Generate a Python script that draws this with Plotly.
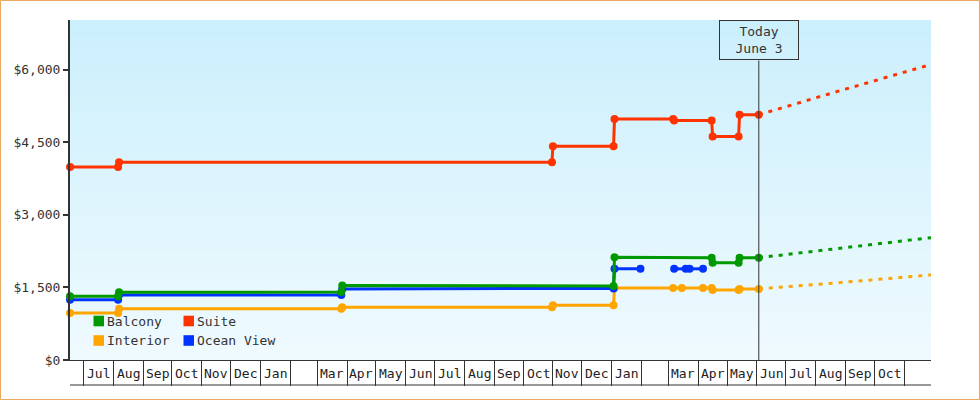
import base64
import struct
import zlib

import pandas as pd
import plotly.graph_objects as go

# ---------------- data ----------------
series_names = ["Balcony", "Suite", "Interior", "Ocean View"]
series_colors = ["#009900", "#FF3300", "#FFA500", "#0033FF"]

suite_dates = ["2017-06-17", "2017-08-06", "2017-08-07", "2018-10-31", "2018-11-01",
               "2019-01-03", "2019-01-04", "2019-03-06", "2019-03-07", "2019-04-15",
               "2019-04-16", "2019-05-13", "2019-05-14", "2019-06-03"]
suite_values = [3990, 3990, 4090, 4090, 4420, 4420, 4985, 4985, 4950, 4950,
                4620, 4620, 5070, 5070]

balcony_dates = ["2017-06-17", "2017-08-06", "2017-08-07", "2018-03-26", "2018-03-27",
                 "2019-01-03", "2019-01-04", "2019-04-15", "2019-04-16", "2019-05-13",
                 "2019-05-14", "2019-06-03"]
balcony_values = [1320, 1320, 1400, 1405, 1540, 1530, 2125, 2115, 2010, 2010, 2115, 2115]

interior_dates = ["2017-06-17", "2017-08-06", "2017-08-07", "2018-03-26", "2018-03-27",
                  "2018-10-31", "2018-11-01", "2019-01-03", "2019-01-04", "2019-03-06",
                  "2019-03-15", "2019-04-06", "2019-04-15", "2019-04-16", "2019-05-13",
                  "2019-05-14", "2019-06-03"]
interior_values = [970, 970, 1060, 1060, 1090, 1090, 1130, 1130, 1490, 1490,
                   1490, 1490, 1490, 1445, 1445, 1470, 1470]

ocean_dates = ["2017-06-17", "2017-08-06", "2017-08-07", "2018-03-26", "2018-03-27",
               "2019-01-03", "2019-01-04", "2019-01-31", None, "2019-03-07",
               "2019-03-19", "2019-03-23", "2019-04-06"]
ocean_values = [1245, 1245, 1345, 1345, 1470, 1480, 1885, 1885, None, 1885,
                1885, 1885, 1885]

forecast_dates = ["2019-06-03", "2019-07-01", "2019-08-01", "2019-09-01",
                  "2019-10-01", "2019-11-01", "2019-11-29"]
suite_forecast = [5070, 5240, 5420, 5600, 5775, 5960, 6110]
balcony_forecast = [2115, 2180, 2250, 2330, 2400, 2470, 2530]
interior_forecast = [1470, 1518, 1562, 1610, 1660, 1712, 1760]

x_start, x_end = "2017-06-17", "2019-11-29"
today = "2019-06-03"
today_label = "Today<br>June 3"

y_ticks = [0, 1500, 3000, 4500, 6000]
y_ticktext = ["$0", "$1,500", "$3,000", "$4,500", "$6,000"]

month_labels = ["Jul", "Aug", "Sep", "Oct", "Nov", "Dec", "Jan", "",
                "Mar", "Apr", "May", "Jun", "Jul", "Aug", "Sep", "Oct", "Nov", "Dec",
                "Jan", "", "Mar", "Apr", "May", "Jun", "Jul", "Aug", "Sep", "Oct"]

# ---------------- layout geometry ----------------
W, H = 980, 400
ML, MR, MT, MB = 70, 49, 20, 40
PW = W - ML - MR
PH = H - MT - MB
FONT = "DejaVu Sans Mono"


def px_x(p):
    return (p - ML) / PW


def px_y(p):
    return (H - MB - p) / PH


# gradient background image (vertical)
def gradient_png(top, bottom, n=340):
    rows = []
    for i in range(n):
        t = i / (n - 1)
        c = [round(top[k] + (bottom[k] - top[k]) * t) for k in range(3)]
        rows.append(b"\x00" + bytes(c + c))
    raw = b"".join(rows)

    def chunk(tag, data):
        return (struct.pack(">I", len(data)) + tag + data +
                struct.pack(">I", zlib.crc32(tag + data) & 0xffffffff))
    png = b"\x89PNG\r\n\x1a\n"
    png += chunk(b"IHDR", struct.pack(">IIBBBBB", 2, n, 8, 2, 0, 0, 0))
    png += chunk(b"IDAT", zlib.compress(raw, 9))
    png += chunk(b"IEND", b"")
    return "data:image/png;base64," + base64.b64encode(png).decode()


fig = go.Figure()

line_w = 3
mk = 8
dash = "4px,6px"

# order: interior, ocean view, balcony, suite
fig.add_trace(go.Scatter(x=interior_dates, y=interior_values, mode="lines+markers",
                         line=dict(color=series_colors[2], width=line_w),
                         marker=dict(color=series_colors[2], size=mk),
                         cliponaxis=False, connectgaps=False, name=series_names[2]))
fig.add_trace(go.Scatter(x=forecast_dates, y=interior_forecast, mode="lines",
                         line=dict(color=series_colors[2], width=line_w, dash=dash),
                         cliponaxis=False))
fig.add_trace(go.Scatter(x=ocean_dates, y=ocean_values, mode="lines+markers",
                         line=dict(color=series_colors[3], width=line_w),
                         marker=dict(color=series_colors[3], size=mk),
                         cliponaxis=False, connectgaps=False, name=series_names[3]))
fig.add_trace(go.Scatter(x=balcony_dates, y=balcony_values, mode="lines+markers",
                         line=dict(color=series_colors[0], width=line_w),
                         marker=dict(color=series_colors[0], size=mk),
                         cliponaxis=False, name=series_names[0]))
fig.add_trace(go.Scatter(x=forecast_dates, y=balcony_forecast, mode="lines",
                         line=dict(color=series_colors[0], width=line_w, dash=dash),
                         cliponaxis=False))
fig.add_trace(go.Scatter(x=suite_dates, y=suite_values, mode="lines+markers",
                         line=dict(color=series_colors[1], width=line_w),
                         marker=dict(color=series_colors[1], size=mk),
                         cliponaxis=False, name=series_names[1]))
fig.add_trace(go.Scatter(x=forecast_dates, y=suite_forecast, mode="lines",
                         line=dict(color=series_colors[1], width=line_w, dash=dash),
                         cliponaxis=False))

shapes = []
annotations = []

# outer border
shapes.append(dict(type="rect", xref="paper", yref="paper",
                   x0=px_x(0.5), x1=px_x(979.5), y0=px_y(399.5), y1=px_y(0.5),
                   line=dict(color="#E8A860", width=1), layer="above"))

# bottom line of month cells
cell_bottom = px_y(385)
shapes.append(dict(type="line", xref="paper", yref="paper", x0=0, x1=1,
                   y0=cell_bottom, y1=cell_bottom, line=dict(color="#333", width=1)))

# month labels centered in cells
month_starts = pd.date_range("2017-07-01", periods=len(month_labels) + 1, freq="MS")
for i, lab in enumerate(month_labels):
    if not lab:
        continue
    s, e = month_starts[i], month_starts[i + 1]
    mid = s + (e - s) / 2
    annotations.append(dict(x=mid, xref="x", y=px_y(373), yref="paper", text=lab,
                            showarrow=False, xanchor="center", yanchor="middle",
                            font=dict(family=FONT, size=13, color="#222")))

# today marker
box_bottom = px_y(60.5)
shapes.append(dict(type="line", xref="x", yref="paper", x0=today, x1=today,
                   y0=0, y1=box_bottom, line=dict(color="#333", width=1), layer="above"))
annotations.append(dict(x=today, xref="x", y=1, yref="paper", text=today_label,
                        showarrow=False, xanchor="center", yanchor="top",
                        width=78, height=38, borderpad=0, bordercolor="#333",
                        borderwidth=1, bgcolor="rgba(0,0,0,0)",
                        font=dict(family=FONT, size=13, color="#333")))

# legend (manual, 2 x 2)
leg_pos = [(93.5, 321), (183.5, 321), (93.5, 340.5), (183.5, 340.5)]
for name, color, (lx, ly) in zip(series_names, series_colors, leg_pos):
    shapes.append(dict(type="rect", xref="paper", yref="paper",
                       x0=px_x(lx), x1=px_x(lx + 10.5), y0=px_y(ly + 5.3), y1=px_y(ly - 5.3),
                       fillcolor=color, line=dict(width=0), layer="above"))
    annotations.append(dict(x=px_x(lx + 11.5), xref="paper", y=px_y(ly), yref="paper",
                            text=name, showarrow=False, xanchor="left", yanchor="middle",
                            font=dict(family=FONT, size=13, color="#333")))

fig.update_layout(
    width=W, height=H,
    margin=dict(l=ML, r=MR, t=MT, b=MB, pad=0),
    paper_bgcolor="white",
    plot_bgcolor="rgba(0,0,0,0)",
    showlegend=False,
    shapes=shapes,
    annotations=annotations,
    images=[dict(source=gradient_png((203, 239, 252), (239, 250, 254)),
                 xref="paper", yref="paper", x=0, y=1, sizex=1, sizey=1,
                 xanchor="left", yanchor="top", sizing="stretch", layer="below")],
    font=dict(family=FONT, size=13, color="#333"),
)

fig.update_xaxes(type="date", range=[x_start, x_end], showgrid=False, zeroline=False,
                 showline=True, linecolor="#333", linewidth=1,
                 ticks="outside", ticklen=25, tickcolor="#333", tickwidth=1,
                 tick0="2017-07-01", dtick="M1", showticklabels=False)
fig.update_yaxes(range=[0, 7030], showgrid=False, zeroline=False,
                 showline=True, linecolor="#333", linewidth=2,
                 ticks="outside", ticklen=5, tickcolor="#333", tickwidth=2,
                 tickvals=y_ticks, ticktext=y_ticktext,
                 tickfont=dict(family=FONT, size=13, color="#333"))

fig.write_html("out.html")
